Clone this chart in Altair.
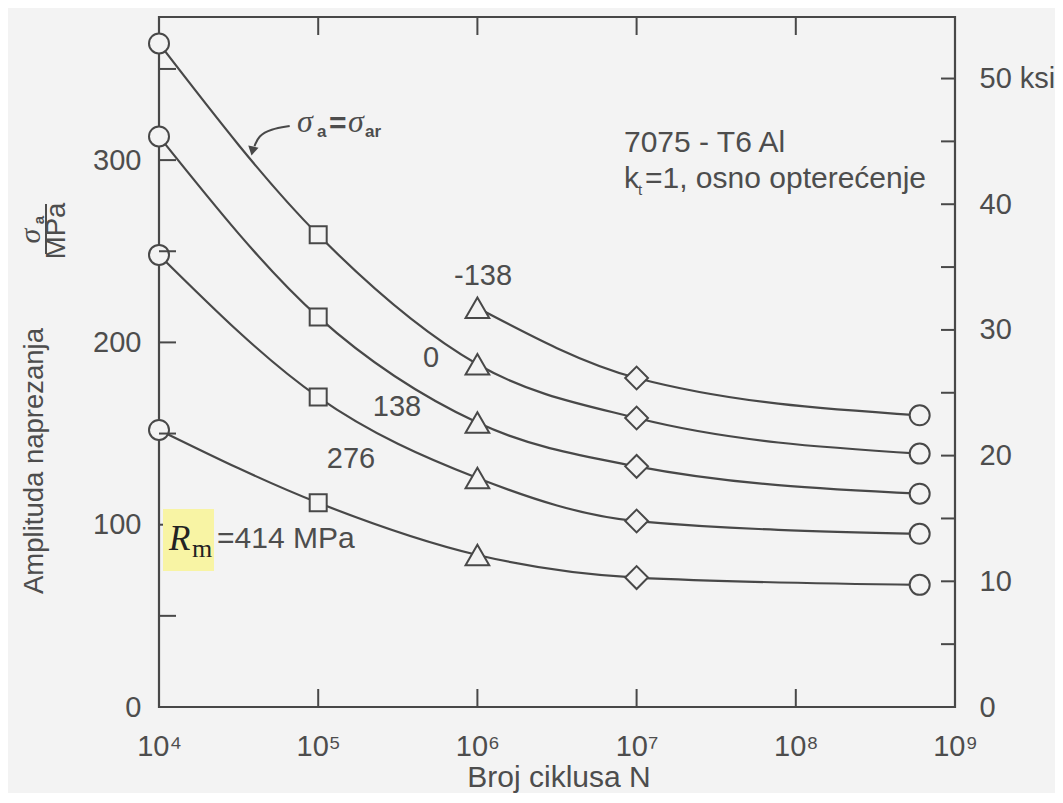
import altair as alt
import pandas as pd

# ---------------- data ----------------
cycles = [1e4, 1e5, 1e6, 1e7, 6e8]
markers = ["circle", "square", "triangle-up", "diamond", "circle"]
mean_stress = ["-138", "0", "138", "276", "414"]
amp_m138 = [None, None, 219, 180.5, 160]
amp_0 = [364, 259, 188, 158.5, 139]
amp_138 = [313, 214, 156, 132, 117]
amp_276 = [248, 170, 125.6, 102, 95]
amp_414 = [152, 112, 83.4, 71, 67]
series_values = [amp_m138, amp_0, amp_138, amp_276, amp_414]

x_ticks = [1e4, 1e5, 1e6, 1e7, 1e8, 1e9]
x_tick_labels = ["10⁴", "10⁵", "10⁶", "10⁷", "10⁸", "10⁹"]
x_inner_ticks = [1e5, 1e6, 1e7, 1e8]
y_labels_mpa = [0, 100, 200, 300]
y_ticks_mpa = [50, 100, 150, 200, 250, 300, 350]
ksi_labels = [0, 10, 20, 30, 40, 50]
ksi_ticks = [5, 10, 15, 20, 25, 30, 35, 40, 45, 50]
MPA_PER_KSI = 6.895
Y_MAX_MPA = 378.5

arrow_N = [66220, 50230, 42170, 39810]
arrow_mpa = [318.7, 317.0, 313.2, 307.7]
arrowhead_N = [38640]
arrowhead_mpa = [305.0]

# ---------------- styling ----------------
W, H = 796, 690
BG = "#f3f3f3"
INK = "#484848"
TXT = "#4d4d4d"
SANS = "Liberation Sans"
SERIF = "Liberation Serif"
MARKER_SIZE = {"circle": 400, "square": 289, "triangle-up": 560, "diamond": 520}

rows = []
for s, vals in zip(mean_stress, series_values):
    for n, v, m in zip(cycles, vals, markers):
        if v is not None:
            rows.append({"series": s, "N": n, "mpa": v, "marker": m})
df = pd.DataFrame(rows)

xscale = alt.Scale(type="log", domain=[1e4, 1e9], nice=False)
yscale = alt.Scale(domain=[0, Y_MAX_MPA], nice=False, zero=False)
kscale = alt.Scale(domain=[0, Y_MAX_MPA / MPA_PER_KSI], nice=False, zero=False)

xexpr = ""
for v, lab in zip(x_ticks, x_tick_labels):
    xexpr += f"abs(datum.value - {v}) < 1 ? '{lab}' : "
xexpr += "''"

XAXIS = alt.Axis(values=x_ticks, labelExpr=xexpr, grid=False, ticks=False, tickSize=0,
                 domain=False, title=None, labelPadding=25, labelFontSize=29,
                 labelFont=SANS, labelColor=TXT, labelFlush=False, labelOverlap=False)
YAXIS = alt.Axis(values=y_labels_mpa, format="d", grid=False, ticks=False, tickSize=0,
                 domain=False, title=None, labelPadding=18, labelFontSize=29,
                 labelFont=SANS, labelColor=TXT, labelBaseline="middle",
                 labelFlush=False, labelOverlap=False)
KAXIS = alt.Axis(orient="right", values=ksi_labels,
                 labelExpr="datum.value == 50 ? '50 ksi' : datum.label",
                 grid=False, ticks=False, tickSize=0, domain=False, title=None,
                 labelPadding=24, labelFontSize=29, labelFont=SANS, labelColor=TXT,
                 labelBaseline="middle", labelAlign="left", labelFlush=False,
                 labelOverlap=False)


def X(field="N"):
    return alt.X(f"{field}:Q", scale=xscale, axis=XAXIS)


def Y(field="mpa"):
    return alt.Y(f"{field}:Q", scale=yscale, axis=YAXIS)


def txt(s, x, y, size=30, font=SANS, style="normal", weight="normal",
        align="left", baseline="alphabetic", angle=0, color=TXT):
    return alt.Chart(pd.DataFrame({"t": [s]})).mark_text(
        fontSize=size, font=font, fontStyle=style, fontWeight=weight,
        align=align, baseline=baseline, angle=angle, color=color
    ).encode(text="t:N", x=alt.value(x), y=alt.value(y))


lines = alt.Chart(df).mark_line(interpolate="monotone", color=INK, strokeWidth=2.2).encode(
    x=X(), y=Y(), detail="series:N")

point_layers = []
for shp, sz in MARKER_SIZE.items():
    point_layers.append(
        alt.Chart(df).transform_filter(alt.datum.marker == shp).mark_point(
            shape=shp, size=sz, filled=True, fill=BG, stroke=INK, strokeWidth=2,
            opacity=1, fillOpacity=1).encode(x=X(), y=Y())
    )

arrow = alt.Chart(pd.DataFrame({"N": arrow_N, "mpa": arrow_mpa})).mark_line(
    interpolate="basis", color=INK, strokeWidth=2).encode(x=X(), y=Y())
arrowhead = alt.Chart(pd.DataFrame({"N": arrowhead_N, "mpa": arrowhead_mpa})).mark_point(
    shape="triangle-down", filled=True, size=110, angle=12, color=INK, opacity=1).encode(x=X(), y=Y())

df_xt = pd.DataFrame({"N": x_inner_ticks})
bottom_ticks = alt.Chart(df_xt).mark_rule(color=INK, strokeWidth=2).encode(
    x=X(), y=alt.value(H), y2=alt.value(H - 18))
top_ticks = alt.Chart(df_xt).mark_rule(color=INK, strokeWidth=2).encode(
    x=X(), y=alt.value(0), y2=alt.value(18))
left_ticks = alt.Chart(pd.DataFrame({"mpa": y_ticks_mpa})).mark_rule(color=INK, strokeWidth=2).encode(
    y=Y(), x=alt.value(0), x2=alt.value(17))
right_ticks = alt.Chart(pd.DataFrame({"ksi": ksi_ticks})).mark_rule(color=INK, strokeWidth=2).encode(
    y=alt.Y("ksi:Q", scale=kscale, axis=KAXIS), x=alt.value(W), x2=alt.value(W - 14))

# annotations (pixel positions inside the chart area)
annos = [
    # sigma_a = sigma_ar with arrow
    txt("σ", 138, 115, size=32, font=SERIF, style="italic"),
    txt("a", 158, 120, size=17, weight="bold"),
    txt("=", 170, 116, size=30, weight="bold"),
    txt("σ", 189, 115, size=32, font=SERIF, style="italic"),
    txt("ar", 206, 120, size=17, weight="bold"),
    # mean stress labels
    txt("-138", 324, 268, size=29, align="center"),
    txt("0", 272, 350, size=29, align="center"),
    txt("138", 238, 399, size=29, align="center"),
    txt("276", 192, 451, size=29, align="center"),
    # material
    txt("7075 - T6 Al", 465, 135, size=30),
    txt("k", 465, 171, size=30),
    txt("t", 479, 178, size=15),
    txt("=1, osno opterećenje", 486, 171, size=30),
    # R_m label
    alt.Chart(pd.DataFrame({"t": [""]})).mark_rect(color="#f8f4a4").encode(
        x=alt.value(4), x2=alt.value(55), y=alt.value(492), y2=alt.value(554)),
    txt("R", 10, 533, size=35, font=SERIF, style="italic", color="#222222"),
    txt("m", 33, 540, size=26, font=SERIF, color="#222222"),
    txt("=414 MPa", 58, 531, size=30),
    # axis titles
    txt("Broj ciklusa N", 400, 770, size=30, align="center"),
    txt("Amplituda naprezanja", -116, 444, size=27.5, align="center", angle=270),
    txt("σ", -119, 219, size=30, font=SERIF, style="italic", align="center", angle=270),
    txt("a", -115, 203, size=15, weight="bold", align="center", angle=270),
    alt.Chart(pd.DataFrame({"t": [""]})).mark_rule(color=TXT, strokeWidth=2).encode(
        x=alt.value(-113), y=alt.value(187), y2=alt.value(237)),
    txt("MPa", -94, 214, size=27.5, align="center", angle=270),
]

mpa_layer = alt.layer(lines, *point_layers, arrow, arrowhead, bottom_ticks, top_ticks,
                      left_ticks, *annos)

chart = alt.layer(mpa_layer, right_ticks).resolve_scale(y="independent").properties(
    width=W, height=H, autosize="none",
    padding={"left": 151, "top": 9, "right": 100, "bottom": 86},
    background=BG,
).configure_view(stroke=INK, strokeWidth=2.2)

chart.save("out.html", embed_options={"renderer": "svg", "actions": False})
